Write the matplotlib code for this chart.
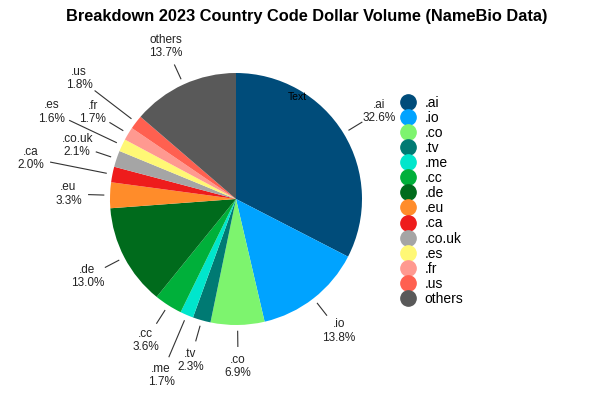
import numpy as np
import matplotlib
matplotlib.use("Agg")
import matplotlib.pyplot as plt
from matplotlib.lines import Line2D

plt.rcParams['font.family'] = ['Liberation Sans', 'DejaVu Sans']

# 数据
labels = ['.ai', '.io', '.co', '.tv', '.me', '.cc', '.de', '.eu', '.ca', '.co.uk', '.es', '.fr', '.us', 'others']
values = [32.6, 13.8, 6.9, 2.3, 1.7, 3.6, 13.0, 3.3, 2.0, 2.1, 1.6, 1.7, 1.8, 13.7]
colors = ['#004c7a', '#00a3ff', '#7df46e', '#007a73', '#00e6cc', '#00b03a', '#006b1c',
          '#ff8c2a', '#ee1c1c', '#a5a5a5', '#fff875', '#ff9990', '#ff6050', '#595959']

# 标签半径（拥挤的小扇区往外推）
label_r = {'.me': 1.52, '.ca': 1.66, '.es': 1.62, '.us': 1.57}

fig = plt.figure(figsize=(6, 4), dpi=100)
ax = fig.add_axes([0, 0, 1, 1])
px = 126.0  # 半径像素

wedges, _ = ax.pie(values, colors=colors, startangle=90, counterclock=False,
                   radius=1, center=(0, 0), frame=True,
                   wedgeprops=dict(linewidth=0))
ax.set_xlim(-236 / px, 364 / px)
ax.set_ylim(-201 / px, 199 / px)
ax.set_aspect('auto')
ax.axis('off')

for w, lab, v in zip(wedges, labels, values):
    ang = np.deg2rad((w.theta1 + w.theta2) / 2)
    r = label_r.get(lab, 1.33)
    c, s = np.cos(ang), np.sin(ang)
    ax.plot([1.05 * c, (r - 0.16) * c], [1.05 * s, (r - 0.16) * s], color='#333333', lw=0.8)
    ax.text(r * c, r * s, f'{lab}\n{v:.1f}%', ha='center', va='center',
            fontsize=8.5, linespacing=1.15, color='#222222')

ax.text(0.49, 0.81, 'Text', ha='center', va='center', fontsize=7.5, color='black')

fig.text(306.5 / 600, 1 - 17 / 400, 'Breakdown 2023 Country Code Dollar Volume (NameBio Data)',
         ha='center', va='center', fontsize=11.8, fontweight='bold')

handles = [Line2D([], [], marker='o', linestyle='', markersize=11, markerfacecolor=col,
                  markeredgecolor=col) for col in colors]
fig.legend(handles, labels, loc='upper left', bbox_to_anchor=(393 / 600, 1 - 90 / 400),
           frameon=False, fontsize=10, labelspacing=0.08, handletextpad=0.45,
           handlelength=1.4, borderaxespad=0)

plt.savefig('out.png', dpi=100)
